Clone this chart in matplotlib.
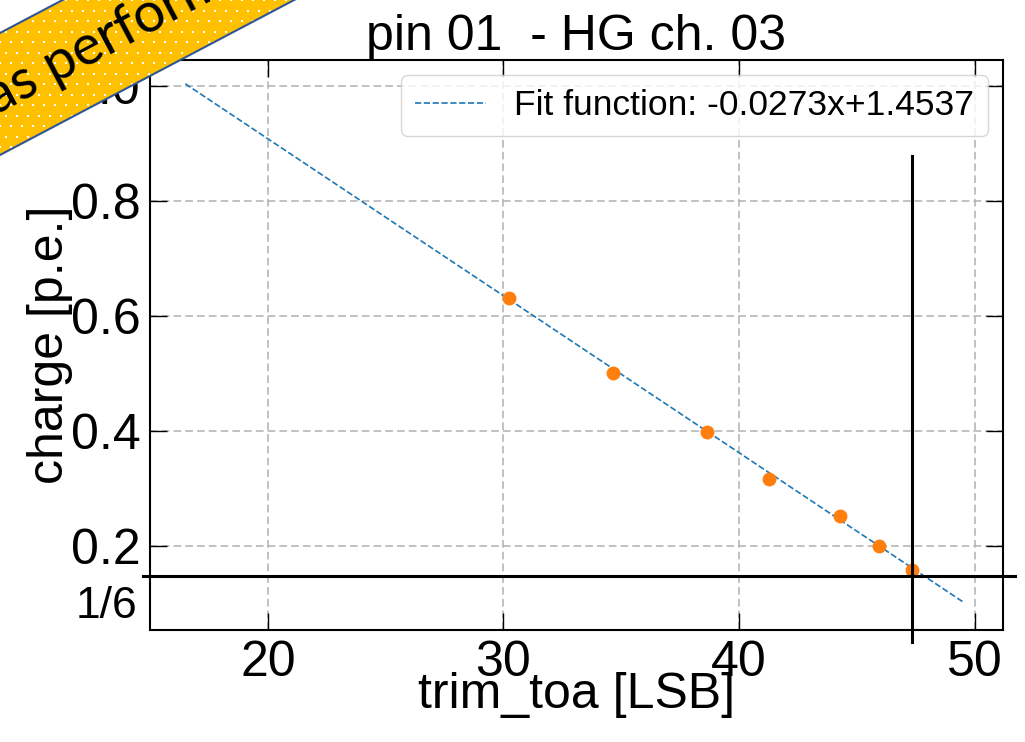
import numpy as np
import matplotlib.pyplot as plt
from matplotlib.patches import Polygon

plt.rcParams['font.family'] = ['Liberation Sans', 'DejaVu Sans']

# measured points
trim_toa = [30.25, 34.67, 38.62, 41.27, 44.27, 45.94, 47.35]
charge = [0.631, 0.501, 0.398, 0.316, 0.251, 0.200, 0.158]

# fit from the legend
slope = -0.0273
intercept = 1.4537
fit_range = [16.5, 49.5]

# annotation lines (threshold 1/6 marker)
cut_x = 47.35
cut_y = 0.1478

fig = plt.figure(figsize=(10.25, 7.42), dpi=100)
ax = fig.add_axes([150 / 1025, 1 - 630 / 742, 853 / 1025, 570 / 742])

fit_x = np.array(fit_range)
fit_y = slope * fit_x + intercept
ax.plot(fit_x, fit_y, '--', color='#1f77b4', lw=1.2,
        label=f'Fit function: {slope}x+{intercept}', zorder=3)
ax.plot(trim_toa, charge, 'o', color='#ff7f0e', ms=9, zorder=4)

ax.plot([14.69, 51.70], [cut_y, cut_y], color='k', lw=2.2, clip_on=False, zorder=5)
ax.plot([cut_x, cut_x], [0.033, 0.878], color='k', lw=2.2, clip_on=False, zorder=5)

ax.set_xlim(15.0, 51.2)
ax.set_ylim(0.0534, 1.0447)
ax.set_xticks([20, 30, 40, 50])
ax.set_yticks([0.2, 0.4, 0.6, 0.8, 1.0])

ax.tick_params(direction='in', length=12, width=1, top=True, right=True,
               labelsize=36, pad=7)
for s in ax.spines.values():
    s.set_linewidth(1.5)
ax.set_axisbelow(True)
ax.grid(True, color='#b0b0b0', linestyle=(0, (5, 2.7)), lw=1.1)

ax.set_title('pin 01  - HG ch. 03', fontsize=36, pad=7)
ax.set_xlabel('trim_toa [LSB]', fontsize=36)
ax.set_ylabel('charge [p.e.]', fontsize=36)
ax.xaxis.set_label_coords(0.5, -0.074)
ax.yaxis.set_label_coords(-0.090, 0.5)

ax.text(-0.0152, 0.021, '1/6', transform=ax.transAxes, ha='right',
        va='baseline', fontsize=32)

ax.legend(loc='upper right', fontsize=25.5, borderaxespad=0.42)

# yellow banner overlay in the corner
ov = fig.add_axes([0, 0, 1, 1], zorder=10)
ov.set_xlim(0, 1025)
ov.set_ylim(742, 0)
ov.axis('off')
ov.patch.set_alpha(0)

m = 0.527
x0, x1 = -60, 420
band = Polygon([(x0, 33 - m * x0), (x1, 33 - m * x1),
                (x1, 155 - m * x1), (x0, 155 - m * x0)],
               facecolor='#FFC000', edgecolor='none')
ov.add_patch(band)
gx, gy = np.meshgrid(np.arange(0, 400, 11.0), np.arange(0, 200, 10.5))
gx[1::2] += 5.5
dots = ov.scatter(gx.ravel(), gy.ravel(), marker='s', s=3.5, color='white',
                  linewidths=0)
dots.set_clip_path(band)
ov.plot([x0, x1], [33 - m * x0, 33 - m * x1], color='#2F5597', lw=1.5)
ov.plot([x0, x1], [155 - m * x0, 155 - m * x1], color='#2F5597', lw=1.5)
ov.text(-4, 115, 'as performed', rotation=28, rotation_mode='anchor',
        ha='left', va='baseline', fontsize=40, family='Lato')

fig.savefig('out.png', dpi=100)
